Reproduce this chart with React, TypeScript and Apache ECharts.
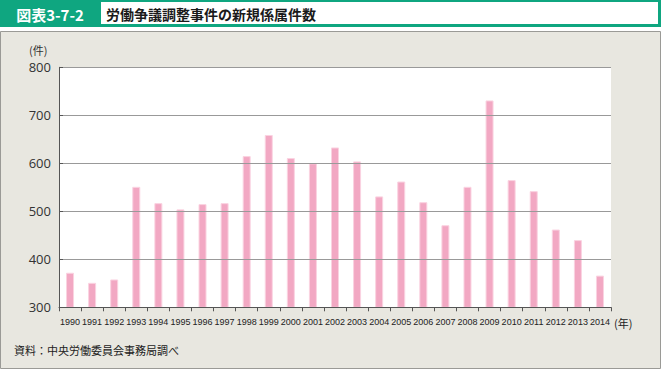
import React, { useEffect, useRef } from "react";
import * as echarts from "echarts";

const years = ["1990","1991","1992","1993","1994","1995","1996","1997","1998","1999","2000","2001","2002","2003","2004","2005","2006","2007","2008","2009","2010","2011","2012","2013","2014"];
const cases = [372, 351, 358, 551, 517, 504, 515, 517, 615, 659, 611, 600, 633, 604, 531, 562, 519, 471, 551, 731, 565, 542, 462, 440, 366];
const yTicks = { min: 300, max: 800, interval: 100 };

const GREEN = "#0fa680";
const JP = "'Noto Sans CJK JP', 'Noto Sans', sans-serif";

export default function App() {
  const ref = useRef<HTMLDivElement>(null);
  useEffect(() => {
    document.body.style.margin = "0";
    const chart = echarts.init(ref.current!, null, { renderer: "svg" });
    chart.setOption({
      animation: false,
      backgroundColor: "#ffffff",
      graphic: [
        { type: "rect", z: 0, shape: { x: 0.5, y: 31.5, width: 660, height: 337 }, style: { fill: "#e8e7e0", stroke: "#9a9a96", lineWidth: 1 } },
        { type: "rect", z: 0, shape: { x: 0, y: 0, width: 661, height: 27 }, style: { fill: GREEN } },
        { type: "rect", z: 1, shape: { x: 101, y: 2, width: 557, height: 22 }, style: { fill: "#ffffff" } },
        { type: "text", z: 2, x: 50, y: 14, style: { text: "図表3-7-2", fill: "#ffffff", font: `bold 15px ${JP}`, align: "center", verticalAlign: "middle" } },
        { type: "text", z: 2, x: 106, y: 14, style: { text: "労働争議調整事件の新規係属件数", fill: "#1a1a1a", font: `bold 14px ${JP}`, align: "left", verticalAlign: "middle" } },
        { type: "text", z: 2, x: 29, y: 50, style: { text: "(件)", fill: "#333333", font: `11px ${JP}`, align: "left", verticalAlign: "middle" } },
        { type: "text", z: 2, x: 614, y: 323, style: { text: "(年)", fill: "#222222", font: `11px ${JP}`, align: "left", verticalAlign: "middle" } },
        { type: "text", z: 2, x: 14, y: 350, style: { text: "資料：中央労働委員会事務局調べ", fill: "#222222", font: `11px ${JP}`, align: "left", verticalAlign: "middle" } },
        { type: "rect", z: 1, shape: { x: 59, y: 67, width: 552, height: 240 }, style: { fill: "#ffffff" } },
      ],
      grid: { left: 59, right: 51, top: 67.3, bottom: 62.7, containLabel: false },
      xAxis: {
        type: "category",
        data: years,
        boundaryGap: true,
        axisLine: { show: true, lineStyle: { color: "#555555", width: 1 } },
        axisTick: { show: true, inside: false, length: 4, alignWithLabel: false, lineStyle: { color: "#555555" } },
        axisLabel: { interval: 0, margin: 10, fontSize: 9, color: "#222222", fontFamily: "'Liberation Sans', Arial, sans-serif" },
        z: 5,
      },
      yAxis: {
        type: "value",
        min: yTicks.min,
        max: yTicks.max,
        interval: yTicks.interval,
        axisLine: { show: true, lineStyle: { color: "#555555", width: 1 } },
        axisTick: { show: true, inside: true, length: 4, lineStyle: { color: "#555555" } },
        axisLabel: { margin: 8, fontSize: 13, color: "#333333", fontFamily: "'Open Sans', 'Noto Sans', sans-serif" },
        splitLine: { show: true, lineStyle: { color: "#999999", width: 1 } },
        z: 5,
      },
      series: [
        {
          type: "bar",
          data: cases,
          barWidth: 8,
          z: 3,
          itemStyle: { color: "#f2a8c3", borderColor: "#fad3e1", borderWidth: 1 },
        },
      ],
    });
    return () => chart.dispose();
  }, []);
  return <div ref={ref} style={{ position: "fixed", left: 0, top: 0, width: 662, height: 370 }} />;
}
